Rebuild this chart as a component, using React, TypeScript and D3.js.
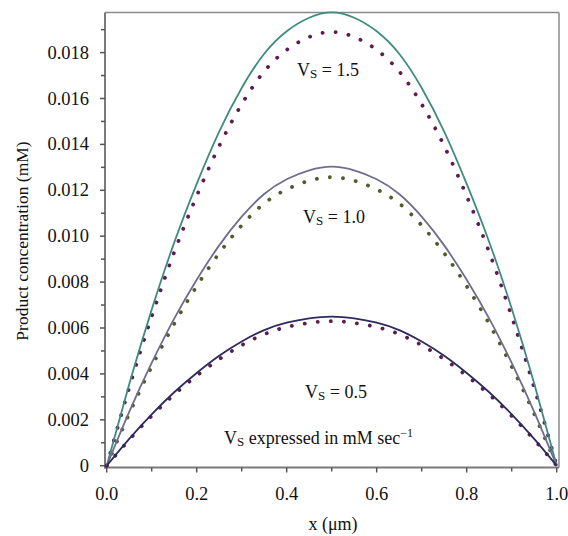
import React from "react";
import * as d3 from "d3";

const xValues = [0, 0.05, 0.1, 0.15, 0.2, 0.25, 0.3, 0.35, 0.4, 0.45, 0.5, 0.55, 0.6, 0.65, 0.7, 0.75, 0.8, 0.85, 0.9, 0.95, 1.0];

const solid15 = [0, 0.00355, 0.0068, 0.00972, 0.01228, 0.01456, 0.01646, 0.01795, 0.01893, 0.01952, 0.01975, 0.01952, 0.01893, 0.01795, 0.01646, 0.01456, 0.01228, 0.00975, 0.00685, 0.00358, 0];
const dotted15 = [0, 0.0034, 0.0065, 0.0093, 0.01175, 0.01393, 0.01575, 0.01718, 0.01812, 0.01868, 0.0189, 0.01868, 0.01812, 0.01718, 0.01575, 0.01393, 0.01175, 0.0093, 0.0065, 0.0034, 0];
const solid10 = [0, 0.00235, 0.00448, 0.00641, 0.0081, 0.0096, 0.01085, 0.01184, 0.01248, 0.01287, 0.01303, 0.01287, 0.01248, 0.01184, 0.01085, 0.0096, 0.0081, 0.00641, 0.00448, 0.00235, 0];
const dotted10 = [0, 0.00226, 0.00432, 0.00618, 0.00782, 0.00926, 0.01047, 0.01143, 0.01204, 0.01242, 0.01257, 0.01242, 0.01204, 0.01143, 0.01047, 0.00926, 0.00782, 0.00618, 0.00432, 0.00226, 0];
const solid05 = [0, 0.00117, 0.00224, 0.0032, 0.00404, 0.00479, 0.00541, 0.00591, 0.00623, 0.00642, 0.0065, 0.00642, 0.00623, 0.00591, 0.00541, 0.00479, 0.00404, 0.0032, 0.00224, 0.00117, 0];
const dotted05 = [0, 0.00113, 0.00217, 0.0031, 0.00392, 0.00464, 0.00525, 0.00573, 0.00604, 0.00622, 0.0063, 0.00622, 0.00604, 0.00573, 0.00525, 0.00464, 0.00392, 0.0031, 0.00217, 0.00113, 0];

const xTickLabels = ["0.0", "0.2", "0.4", "0.6", "0.8", "1.0"];
const xTicks = [0, 0.2, 0.4, 0.6, 0.8, 1.0];
const xMinorTicks = [0.1, 0.3, 0.5, 0.7, 0.9];
const yTicks = [0, 0.002, 0.004, 0.006, 0.008, 0.01, 0.012, 0.014, 0.016, 0.018];
const yTickLabels = ["0", "0.002", "0.004", "0.006", "0.008", "0.010", "0.012", "0.014", "0.016", "0.018"];
const yMinorTicks = [0.001, 0.003, 0.005, 0.007, 0.009, 0.011, 0.013, 0.015, 0.017, 0.019];

const series = [
  { values: dotted15, color: "#5e1a52", dotted: true },
  { values: dotted10, color: "#4f5c2c", dotted: true },
  { values: dotted05, color: "#5a1f4c", dotted: true },
  { values: solid15, color: "#3f8c7f", dotted: false },
  { values: solid10, color: "#6f6d8c", dotted: false },
  { values: solid05, color: "#2c2a5e", dotted: false },
];

const labels = [
  { value: "1.5", x: 297, y: 76 },
  { value: "1.0", x: 303, y: 223 },
  { value: "0.5", x: 305, y: 398 },
];

export default function App() {
  const W = 568, H = 536;
  const x = d3.scaleLinear().domain([0, 1]).range([106.7, 556.7]);
  const y = d3.scaleLinear().domain([0, 0.018]).range([465.7, 52.6]);
  const line = d3
    .line<number>()
    .x((_, i) => x(xValues[i]))
    .y((d) => y(d))
    .curve(d3.curveNatural);

  const font = "'Liberation Serif', 'Times New Roman', serif";
  const left = 105, right = 559, top = 12.5, bottom = 467.5;
  const axisColor = "#7a7a7a";

  return (
    <svg width={W} height={H} style={{ position: "absolute", left: 0, top: 0, background: "#fff" }} fontFamily={font}>
      <rect x={0} y={0} width={W} height={H} fill="#fff" />
      {/* frame */}
      <line x1={left} y1={top} x2={right} y2={top} stroke="#8a8a8a" strokeWidth={1.5} />
      <line x1={right} y1={top} x2={right} y2={bottom} stroke="#8a8a8a" strokeWidth={1.5} />
      <line x1={left} y1={top} x2={left} y2={bottom + 1} stroke={axisColor} strokeWidth={2} />
      <line x1={left - 1} y1={bottom} x2={right} y2={bottom} stroke={axisColor} strokeWidth={2} />

      {/* y ticks */}
      {yTicks.map((t, i) => (
        <g key={"yt" + i}>
          <line x1={left - 5} x2={left} y1={y(t)} y2={y(t)} stroke="#555" strokeWidth={1.5} />
          <text x={89} y={y(t)} textAnchor="end" dominantBaseline="central" fontSize={18.5} fill="#111">
            {yTickLabels[i]}
          </text>
        </g>
      ))}
      {yMinorTicks.map((t, i) => (
        <line key={"ym" + i} x1={left - 4} x2={left} y1={y(t)} y2={y(t)} stroke="#555" strokeWidth={1.5} />
      ))}

      {/* x ticks */}
      {xTicks.map((t, i) => (
        <g key={"xt" + i}>
          <line x1={x(t)} x2={x(t)} y1={bottom} y2={bottom + 5} stroke="#555" strokeWidth={1.5} />
          <text x={x(t)} y={500} textAnchor="middle" fontSize={18.5} fill="#111">
            {xTickLabels[i]}
          </text>
        </g>
      ))}
      {xMinorTicks.map((t, i) => (
        <line key={"xm" + i} x1={x(t)} x2={x(t)} y1={bottom} y2={bottom + 4} stroke="#555" strokeWidth={1.5} />
      ))}

      {/* curves */}
      {series.map((s, i) =>
        s.dotted ? (
          <path
            key={"s" + i}
            d={line(s.values) || ""}
            fill="none"
            stroke={s.color}
            strokeWidth={3.8}
            strokeLinecap="round"
            strokeDasharray="0.1 13"
          />
        ) : (
          <path key={"s" + i} d={line(s.values) || ""} fill="none" stroke={s.color} strokeWidth={1.8} />
        )
      )}

      {/* annotations */}
      {labels.map((l, i) => (
        <text key={"l" + i} x={l.x} y={l.y} fontSize={18} fill="#111">
          V
          <tspan fontSize={13} dy={1.5}>S</tspan>
          <tspan dy={-1.5}>{" = " + l.value}</tspan>
        </text>
      ))}
      <text x={224} y={444} fontSize={18} fill="#111">
        V
        <tspan fontSize={13} dy={1.5}>S</tspan>
        <tspan dy={-1.5}>{" expressed in mM sec"}</tspan>
        <tspan fontSize={12} dy={-7}>{"\u22121"}</tspan>
      </text>

      {/* axis titles */}
      <text x={333} y={530} textAnchor="middle" fontSize={18} fill="#111">
        x (μm)
      </text>
      <text
        transform={`translate(22, 241) rotate(-90)`}
        textAnchor="middle"
        dominantBaseline="central"
        fontSize={17.5}
        fill="#111"
      >
        Product concentration (mM)
      </text>
    </svg>
  );
}
